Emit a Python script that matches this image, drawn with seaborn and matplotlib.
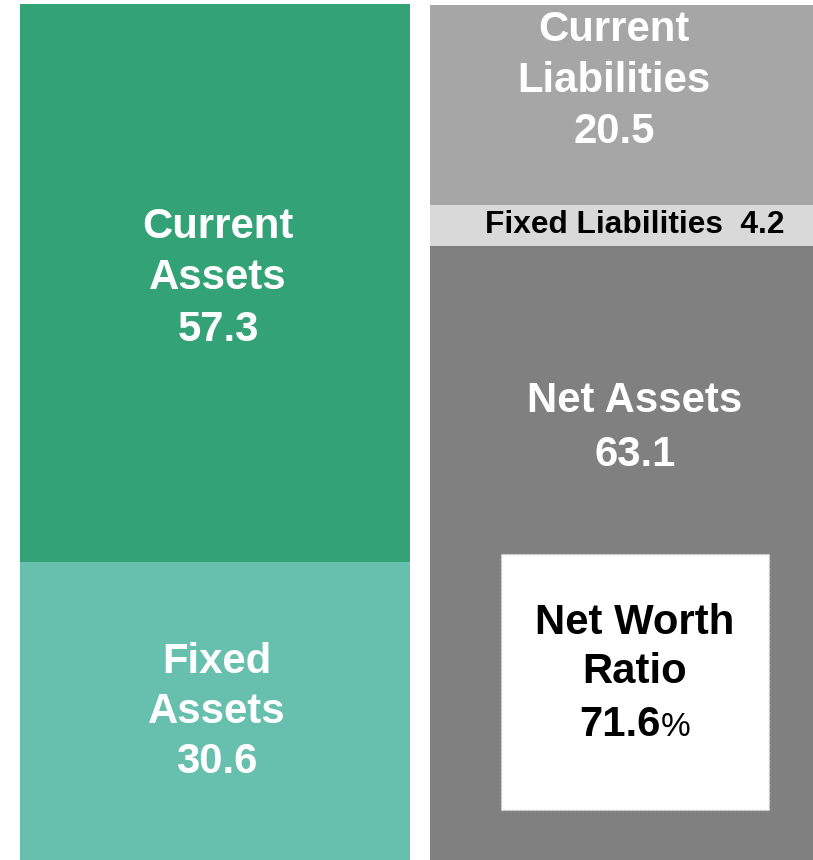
import matplotlib
matplotlib.use("Agg")
import matplotlib.pyplot as plt
import seaborn as sns
import pandas as pd
from matplotlib.patches import Rectangle

# ---------------- data ----------------
categories = ["Assets", "Liabilities & Net Assets"]
current_assets = 57.3
fixed_assets = 30.6
current_liabilities = 20.5
fixed_liabilities = 4.2
net_assets = 63.1
net_worth_ratio = 71.6

colors = {
    "current_assets": "#34a277",
    "fixed_assets": "#66c0ad",
    "current_liabilities": "#a6a6a6",
    "fixed_liabilities": "#d9d9d9",
    "net_assets": "#808080",
}

sns.set_theme(style="white")
plt.rcParams["font.family"] = ["Liberation Sans", "DejaVu Sans"]

W, H, DPI = 813, 860, 100
fig = plt.figure(figsize=(W / DPI, H / DPI), dpi=DPI)
ax = fig.add_axes([0, 0, 1, 1])

# stacked bars drawn as overlapping cumulative layers
layers = [
    ([fixed_assets + current_assets,
      net_assets + fixed_liabilities + current_liabilities],
     [colors["current_assets"], colors["current_liabilities"]]),
    ([fixed_assets, net_assets + fixed_liabilities],
     [colors["fixed_assets"], colors["fixed_liabilities"]]),
    ([0.0, net_assets],
     [colors["fixed_assets"], colors["net_assets"]]),
]
for values, cols in layers:
    df = pd.DataFrame({"cat": categories, "val": values})
    sns.barplot(data=df, x="cat", y="val", hue="cat", order=categories,
                hue_order=categories, palette=dict(zip(categories, cols)),
                dodge=False, legend=False, width=0.951, linewidth=0,
                saturation=1, ax=ax)

ax.set_xlim(-0.5244, -0.5244 + W / 410)
ax.set_ylim(0, 88.31)
ax.axis("off")

FS = 30.2          # large label size (pt)
CAP = 0.716 * FS * DPI / 72


def stacked_label(x, y, lines, dx, dy, color, spacing=51.5, size=FS):
    cap = 0.716 * size * DPI / 72
    n = len(lines)
    for i, line in enumerate(lines):
        off = dy - (i - (n - 1) / 2) * spacing - cap / 2
        ax.annotate(line, xy=(x, y), xytext=(dx, off),
                    textcoords="offset pixels", ha="center", va="baseline",
                    fontsize=size, fontweight="bold", color=color)


stacked_label(0, fixed_assets + current_assets / 2,
              ["Current", "Assets", f"{current_assets:.1f}"], 3, 9, "white")
stacked_label(0, fixed_assets / 2,
              ["Fixed", "Assets", f"{fixed_assets:.1f}"], 2, 3, "white", spacing=50)
stacked_label(1, net_assets + fixed_liabilities + current_liabilities / 2,
              ["Current", "Liabilities", f"{current_liabilities:.1f}"], -11, 28,
              "white", spacing=51)
stacked_label(1, net_assets + fixed_liabilities / 2,
              [f"Fixed Liabilities  {fixed_liabilities:.1f}"], 10, 3, "black",
              size=22.8)
stacked_label(1, net_assets / 2,
              ["Net Assets", f"{net_assets:.1f}"], 10, 129, "white", spacing=54)

# net worth ratio box
bx0, by0, bx1, by1 = 501, 554, 769, 810
fig.patches.append(Rectangle((bx0 / W, 1 - by1 / H), (bx1 - bx0) / W,
                             (by1 - by0) / H, transform=fig.transFigure,
                             facecolor="white", edgecolor="#cfcfcf",
                             linewidth=0.9, linestyle=(0, (2, 1.2)), zorder=5))

cx = 635
for text, yc in [("Net Worth", 619), ("Ratio", 668)]:
    fig.text(cx / W, 1 - (yc + CAP / 2) / H, text, ha="center", va="baseline",
             fontsize=FS, fontweight="bold", color="black", zorder=6)

renderer = fig.canvas.get_renderer()
t_num = fig.text(0, 0, f"{net_worth_ratio:.1f}", fontsize=FS, fontweight="bold",
                 color="black", va="baseline", ha="left", zorder=6)
t_pct = fig.text(0, 0, "%", fontsize=24, fontweight="normal", color="black",
                 va="baseline", ha="left", zorder=6)
w_num = t_num.get_window_extent(renderer).width
w_pct = t_pct.get_window_extent(renderer).width
x_start = cx - (w_num + w_pct) / 2
yb = 1 - (721 + CAP / 2) / H
t_num.set_position((x_start / W, yb))
t_pct.set_position(((x_start + w_num) / W, yb))

fig.savefig("out.png", dpi=DPI, facecolor="white")
